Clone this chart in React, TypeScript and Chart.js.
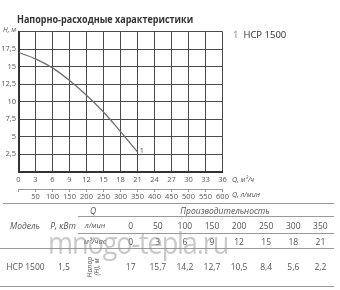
import React, { useEffect, useRef } from "react";
import { Chart, registerables } from "chart.js";
Chart.register(...registerables);

// chart data
const flowM3h = [0, 3, 6, 9, 12, 15, 18, 21];
const headCurve = [17, 16.1, 14.8, 13.0, 10.9, 8.5, 5.7, 2.8];
// table data
const tableFlowLmin = [0, 50, 100, 150, 200, 250, 300, 350];
const tableFlowM3h = [0, 3, 6, 9, 12, 15, 18, 21];
const tableHead = [17, 15.7, 14.2, 12.7, 10.5, 8.4, 5.6, 2.2];
const modelName = "HCP 1500";
const modelPower = 1.5;
const seriesLabel = "1";

const fmt = (v: number) => String(v).replace(".", ",");
const FONT = "'Open Sans', 'Noto Sans', sans-serif";
const TXT = "#555";

const annotPlugin = {
  id: "annot",
  afterDraw(chart: any) {
    const ctx = chart.ctx;
    const x = chart.scales.x;
    const x2 = chart.scales.x2;
    const y = chart.scales.y;
    ctx.save();
    ctx.fillStyle = TXT;
    ctx.font = `italic 7px ${FONT}`;
    ctx.textBaseline = "middle";
    ctx.textAlign = "left";
    ctx.fillText("Q, м³/ч", x.right + 9.5, x.top + 8.5);
    ctx.fillText("Q, л/мин", x.right + 9.5, x2.top + 6);
    ctx.fillText("H, м", 3, y.top - 2);
    const meta = chart.getDatasetMeta(0);
    const last = meta.data[meta.data.length - 1];
    ctx.font = `8px ${FONT}`;
    ctx.fillText(seriesLabel, last.x + 2, last.y - 1);
    ctx.restore();
  },
};

function ChartBox() {
  const ref = useRef<HTMLCanvasElement>(null);
  useEffect(() => {
    const chart = new Chart(ref.current as HTMLCanvasElement, {
      type: "line",
      data: {
        datasets: [
          {
            data: flowM3h.map((q, i) => ({ x: q, y: headCurve[i] })),
            borderColor: "#6f6f6f",
            borderWidth: 1.3,
            pointRadius: 0,
            cubicInterpolationMode: "monotone",
            xAxisID: "x",
            yAxisID: "y",
          },
        ],
      },
      options: {
        responsive: false,
        animation: false,
        plugins: { legend: { display: false }, tooltip: { enabled: false } },
        layout: { padding: { left: 0, right: 117.5, top: 31.5, bottom: 2 } },
        scales: {
          x: {
            type: "linear",
            position: "bottom",
            min: 0,
            max: 36,
            afterFit: (s: any) => { s.height = 17.5; },
            ticks: { stepSize: 3, color: TXT, font: { size: 7.5, family: FONT }, padding: 4, maxRotation: 0, autoSkip: false },
            grid: { color: "#4a4a4a", lineWidth: 1, drawTicks: false },
            border: { color: "#333", width: 2 },
          },
          x2: {
            type: "linear",
            position: "bottom",
            min: 0,
            max: 600,
            afterFit: (s: any) => { s.height = 14; },
            ticks: {
              stepSize: 50,
              color: TXT,
              font: { size: 7.5, family: FONT },
              padding: 0,
              maxRotation: 0,
              autoSkip: false,
              callback: (v: any) => (v === 0 ? "" : String(v)),
            },
            grid: { drawOnChartArea: false, tickLength: 3, color: "#999", lineWidth: 1 },
            border: { color: "#999", width: 1 },
          },
          y: {
            type: "linear",
            min: 0,
            max: 20,
            afterFit: (s: any) => { s.width = 18.5; },
            ticks: {
              stepSize: 2.5,
              color: TXT,
              font: { size: 7.5, family: FONT },
              padding: 2.5,
              callback: (v: any) => (v === 0 || v === 20 ? "" : fmt(v)),
            },
            grid: { color: "#4a4a4a", lineWidth: 1, drawTicks: false },
            border: { color: "#333", width: 2 },
          },
        },
      } as any,
      plugins: [annotPlugin],
    });
    return () => chart.destroy();
  }, []);
  return (
    <canvas ref={ref} width={340} height={205} style={{ position: "absolute", left: 0, top: 0, width: 340, height: 205 }} />
  );
}

const colCenter = (i: number) => 130.7 + i * 27.1;

function T(props: { x: number; y: number; children: any; italic?: boolean; size?: number; color?: string }) {
  return (
    <div
      style={{
        position: "absolute",
        left: props.x,
        top: props.y,
        transform: "translate(-50%, -50%)",
        whiteSpace: "nowrap",
        fontFamily: FONT,
        fontSize: props.size ?? 8.5,
        fontStyle: props.italic ? "italic" : "normal",
        color: props.color ?? TXT,
        lineHeight: 1,
      }}
    >
      {props.children}
    </div>
  );
}

function HLine(props: { x1: number; x2: number; y: number }) {
  return (
    <div style={{ position: "absolute", left: props.x1, top: props.y, width: props.x2 - props.x1, height: 1, background: "#999" }} />
  );
}

export default function App() {
  return (
    <div style={{ position: "absolute", left: 0, top: 0, width: 340, height: 290, background: "#fff", overflow: "hidden" }}>
      <ChartBox />
      <div
        style={{
          position: "absolute",
          left: 17,
          top: 13,
          fontFamily: FONT,
          fontWeight: 700,
          fontSize: 10.5,
          color: "#333",
          whiteSpace: "nowrap",
          lineHeight: 1.2,
          transform: "scaleX(0.86)",
          transformOrigin: "0 0",
        }}
      >
        Напорно-расходные характеристики
      </div>
      <div style={{ position: "absolute", left: 233, top: 29, fontFamily: FONT, fontSize: 9.5, color: "#333", whiteSpace: "nowrap", lineHeight: 1.2 }}>
        <span style={{ color: "#888" }}>{seriesLabel}</span>&nbsp; {modelName}
      </div>

      <HLine x1={3} x2={334} y={203} />
      <HLine x1={78} x2={334} y={215.5} />
      <HLine x1={78} x2={334} y={233} />
      <HLine x1={0} x2={334} y={247.5} />
      <HLine x1={0} x2={334} y={285.5} />

      <T x={93} y={211} italic>Q</T>
      <T x={225} y={211} italic>Производительность</T>

      <T x={25} y={226} italic>Модель</T>
      <T x={63} y={226} italic>P, кВт</T>
      <T x={95} y={226} italic size={7.5}>л/мин</T>
      {tableFlowLmin.map((v, i) => (
        <T key={"l" + i} x={colCenter(i)} y={226}>{fmt(v)}</T>
      ))}

      <T x={95} y={241.5} italic size={7.5}>м³/час</T>
      {tableFlowM3h.map((v, i) => (
        <T key={"m" + i} x={colCenter(i)} y={241.5}>{fmt(v)}</T>
      ))}

      <T x={25.5} y={266.5}>{modelName}</T>
      <T x={64} y={266.5}>{fmt(modelPower)}</T>
      <div
        style={{
          position: "absolute",
          left: 93,
          top: 266.5,
          transform: "translate(-50%, -50%) rotate(-90deg)",
          fontFamily: FONT,
          fontSize: 7,
          fontStyle: "italic",
          color: TXT,
          whiteSpace: "nowrap",
          lineHeight: 1,
          textAlign: "center",
        }}
      >
        Напор
        <br />
        (H), м
      </div>
      {tableHead.map((v, i) => (
        <T key={"h" + i} x={colCenter(i)} y={266.5}>{fmt(v)}</T>
      ))}

      <div
        style={{
          position: "absolute",
          left: 48,
          top: 224,
          fontFamily: FONT,
          fontSize: 31,
          color: "rgba(150,150,150,0.5)",
          whiteSpace: "nowrap",
          lineHeight: 1.2,
          letterSpacing: -1.3,
          transform: "scaleX(0.875)",
          transformOrigin: "0 0",
        }}
      >
        mnogo-tepla.ru
      </div>
    </div>
  );
}
